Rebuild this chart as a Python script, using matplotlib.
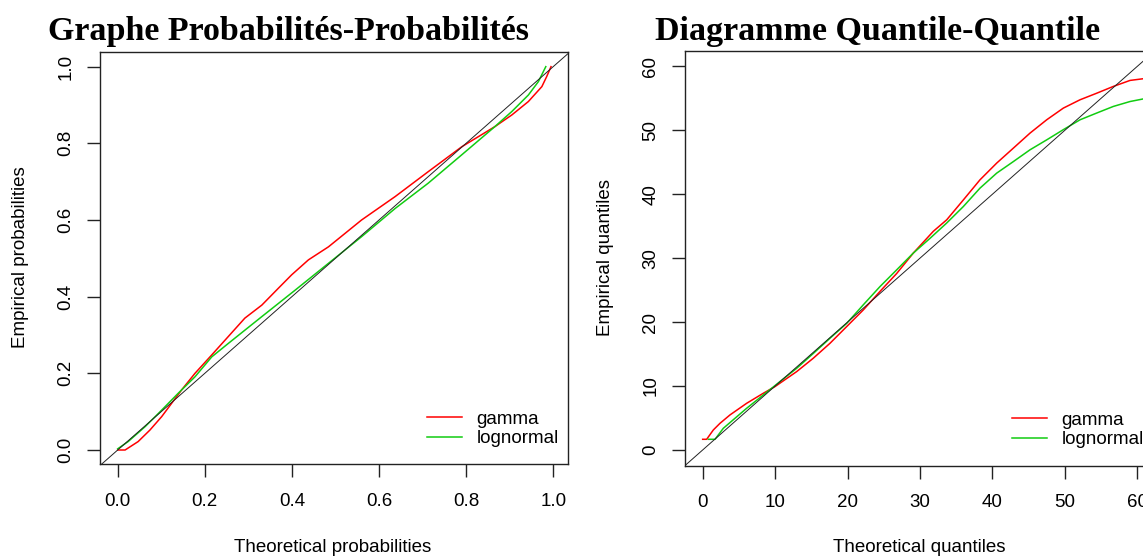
import numpy as np
import matplotlib.pyplot as plt

# P-P plot data (theoretical prob, empirical prob)
pp_gamma_x = [0.0, 0.017, 0.047, 0.074, 0.101, 0.124, 0.147, 0.1775, 0.216, 0.254, 0.292, 0.331,
              0.369, 0.3995, 0.438, 0.484, 0.560, 0.637, 0.713, 0.790, 0.866, 0.905, 0.943,
              0.974, 0.985, 0.995]
pp_gamma_y = [0.0, 0.0, 0.022, 0.052, 0.087, 0.122, 0.157, 0.200, 0.248, 0.296, 0.344, 0.378,
              0.422, 0.457, 0.496, 0.530, 0.600, 0.661, 0.726, 0.791, 0.8435, 0.874, 0.909,
              0.948, 0.974, 1.0]
pp_lnorm_x = [0.0, 0.024, 0.063, 0.101, 0.139, 0.1775, 0.216, 0.254, 0.331, 0.4075, 0.484, 0.560,
              0.637, 0.713, 0.790, 0.866, 0.905, 0.943, 0.966, 0.983]
pp_lnorm_y = [0.003, 0.022, 0.061, 0.104, 0.148, 0.191, 0.243, 0.278, 0.348, 0.417, 0.487, 0.5565,
              0.630, 0.696, 0.770, 0.8435, 0.883, 0.926, 0.961, 1.0]

# Q-Q plot data (theoretical quantile, empirical quantile)
qq_gamma_x = [0.0, 0.55, 1.47, 2.39, 3.77, 6.07, 8.37, 9.98, 12.98, 15.27, 17.58, 19.88, 22.17,
              24.48, 26.78, 29.08, 31.84, 33.69, 35.98, 38.28, 40.59, 42.88, 45.19, 47.49,
              49.79, 52.09, 54.4, 56.69, 59.0, 60.8, 61.8]
qq_gamma_y = [1.67, 1.67, 3.13, 4.17, 5.48, 7.30, 8.87, 9.91, 12.26, 14.35, 16.69, 19.3, 21.9,
              24.8, 27.6, 30.8, 34.2, 36.0, 39.1, 42.25, 44.87, 47.2, 49.56, 51.64, 53.47,
              54.77, 55.8, 56.86, 57.8, 58.06, 58.3]
qq_lnorm_x = [0.78, 1.7, 2.85, 6.07, 8.37, 10.67, 12.98, 15.27, 17.58, 19.88, 22.17, 24.48, 26.78,
              29.08, 31.38, 33.69, 35.98, 38.28, 40.59, 42.88, 45.19, 47.49, 49.79, 52.09,
              54.4, 56.69, 59.0, 60.8, 61.8]
qq_lnorm_y = [1.67, 1.67, 3.39, 6.52, 8.6, 10.7, 12.78, 15.1, 17.48, 19.8, 22.7, 25.56, 28.17,
              30.8, 33.1, 35.5, 38.07, 40.95, 43.3, 45.1, 46.95, 48.5, 50.1, 51.64, 52.7,
              53.73, 54.5, 54.9, 55.1]

RED = '#ff0000'
GREEN = '#11cc11'
W, H = 1143, 556
FS = 13.5

plt.rcParams['font.family'] = ['Liberation Sans', 'DejaVu Sans']
fig = plt.figure(figsize=(W / 100, H / 100), dpi=100)


def px_axes(l, t, r, b):
    return fig.add_axes([l / W, 1 - b / H, (r - l) / W, (b - t) / H])


def style(ax):
    for s in ax.spines.values():
        s.set_linewidth(1.0)
        s.set_color('#222222')
    ax.tick_params(direction='out', length=9.5, width=1.0, color='#222222',
                   labelsize=FS, pad=11)
    ax.tick_params(axis='y', pad=9)
    for lab in ax.get_yticklabels():
        lab.set_rotation(90)
        lab.set_va('center')


def add_legend(ax, x, y):
    ax.legend(loc='center left', frameon=False, fontsize=FS, handlelength=1.85,
              handletextpad=0.8, labelspacing=0.12, borderpad=0, borderaxespad=0,
              bbox_to_anchor=(x / W, 1 - y / H), bbox_transform=fig.transFigure)


# left: P-P plot
ax1 = px_axes(100, 51.7, 567.7, 464.3)
ax1.plot(pp_gamma_x, pp_gamma_y, color=RED, lw=1.1, label='gamma')
ax1.plot(pp_lnorm_x, pp_lnorm_y, color=GREEN, lw=1.1, label='lognormal')
ax1.axline((0, 0), slope=1, color='#222222', lw=0.7)
ax1.set_xlim(-0.0406, 1.0333)
ax1.set_ylim(-0.0373, 1.039)
ax1.set_xticks([0.0, 0.2, 0.4, 0.6, 0.8, 1.0])
ax1.set_yticks([0.0, 0.2, 0.4, 0.6, 0.8, 1.0])
ax1.set_xticklabels(['0.0', '0.2', '0.4', '0.6', '0.8', '1.0'])
ax1.set_yticklabels(['0.0', '0.2', '0.4', '0.6', '0.8', '1.0'])
style(ax1)
add_legend(ax1, 427, 429)

# right: Q-Q plot
ax2 = px_axes(685, 51, 1154.7, 465.7)
ax2.plot(qq_gamma_x, qq_gamma_y, color=RED, lw=1.1, label='gamma')
ax2.plot(qq_lnorm_x, qq_lnorm_y, color=GREEN, lw=1.1, label='lognormal')
ax2.axline((0, 0), slope=1, color='#222222', lw=0.7)
ax2.set_xlim(-2.44, 62.4)
ax2.set_ylim(-2.46, 62.4)
ax2.set_xticks([0, 10, 20, 30, 40, 50, 60])
ax2.set_yticks([0, 10, 20, 30, 40, 50, 60])
style(ax2)
add_legend(ax2, 1012, 430)

# axis labels
fig.text(333 / W, 1 - 547 / H, 'Theoretical probabilities', ha='center', va='center', fontsize=FS)
fig.text(21 / W, 1 - 257 / H, 'Empirical probabilities', ha='center', va='center',
         rotation=90, fontsize=FS)
fig.text(919 / W, 1 - 547 / H, 'Theoretical quantiles', ha='center', va='center', fontsize=FS)
fig.text(606 / W, 1 - 257 / H, 'Empirical quantiles', ha='center', va='center',
         rotation=90, fontsize=FS)

# titles
serif = ['Liberation Serif', 'DejaVu Serif']
fig.text(48 / W, 1 - 40 / H, 'Graphe Probabilités-Probabilités', ha='left', va='baseline',
         fontsize=24.5, fontweight='bold', family=serif)
fig.text(655 / W, 1 - 40 / H, 'Diagramme Quantile-Quantile', ha='left', va='baseline',
         fontsize=24.5, fontweight='bold', family=serif)

fig.savefig('out.png', dpi=100)
